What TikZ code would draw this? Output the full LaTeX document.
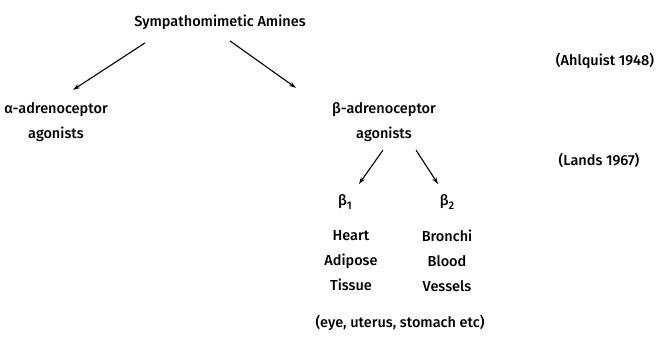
\documentclass[tikz,border=0pt]{standalone}
\usepackage{fontspec}
\setmainfont{Fira Sans}[UprightFont={* Medium}]
\usetikzlibrary{arrows.meta}

\begin{document}
\begin{tikzpicture}[
  x=1pt,y=-1pt,
  label/.style={font=\fontsize{14.5}{25}\selectfont,align=center,inner sep=0pt},
  every path/.style={line width=1.1pt},
  link/.style={-{Stealth[length=7pt,width=4.5pt]}}
]
  \useasboundingbox (0,0) rectangle (659,352);

  \node[label] (amines) at (220,22) {Sympathomimetic Amines};
  \node[label] (ahlquist) at (605,61) {(Ahlquist 1948)};

  \node[label] (alpha) at (56,122) {α-adrenoceptor\\agonists};
  \node[label] (beta) at (384,122) {β-adrenoceptor\\agonists};
  \node[label] (lands) at (599,160) {(Lands 1967)};

  \node[label] (beta-one) at (345,202) {β\raisebox{-4pt}{\fontsize{11}{11}\selectfont 1}};
  \node[label] (beta-two) at (447,202) {β\raisebox{-4pt}{\fontsize{11}{11}\selectfont 2}};

  \node[label] (tissue-one) at (351,261) {Heart\\Adipose\\Tissue};
  \node[label] (tissue-two) at (447,261) {Bronchi\\Blood\\Vessels};

  \node[label] (others) at (400,323) {(eye, uterus, stomach etc)};

  \draw[link] ([xshift=-75pt,yshift=-13pt]amines.south) -- ([xshift=17pt,yshift=12pt]alpha.north);
  \draw[link] ([xshift=10pt,yshift=-11pt]amines.south) -- ([xshift=-88pt,yshift=14pt]beta.north);
  \draw[link] ([xshift=-1pt,yshift=-8pt]beta.south) -- ([xshift=14pt,yshift=10pt]beta-one.north);
  \draw[link] ([xshift=32pt,yshift=-8pt]beta.south) -- ([xshift=-9pt,yshift=10pt]beta-two.north);
\end{tikzpicture}
\end{document}
